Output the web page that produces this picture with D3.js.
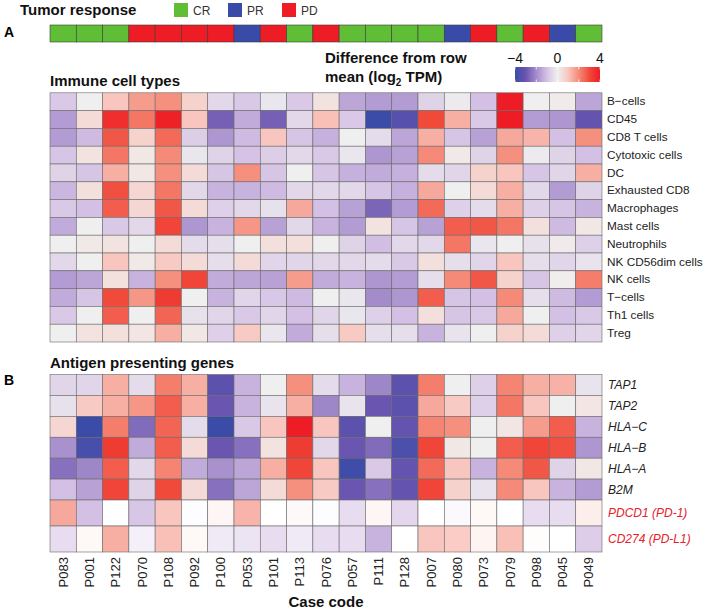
<!DOCTYPE html>
<html><head><meta charset="utf-8">
<script src="https://cdn.jsdelivr.net/npm/d3@7"></script>
<style>
html,body{margin:0;padding:0;background:#fff;}
text{font-family:"Liberation Sans",Arial,Helvetica,sans-serif;}
</style></head>
<body><svg id="chart" width="703" height="609"></svg>
<script>
const cases = ["P083","P001","P122","P070","P108","P092","P100","P053","P101","P113","P076","P057","P111","P128","P007","P080","P073","P079","P098","P045","P049"];
const response = ["CR","CR","CR","PD","PD","PD","PD","PR","PD","CR","PD","CR","CR","CR","CR","PR","PD","CR","PD","PR","CR"];
const responseTypes = ["CR","PR","PD"];
const immuneCells = ["B\u2212cells","CD45","CD8 T cells","Cytotoxic cells","DC","Exhausted CD8","Macrophages","Mast cells","Neutrophils","NK CD56dim cells","NK cells","T\u2212cells","Th1 cells","Treg"];
const immuneValues = [
  [-0.8, 0, 1, 1.7, 1.9, 0.7, -0.5, -0.8, -0.2, -0.8, 0.3, -1.5, -1.7, -1.7, -0.6, -0.1, -1, 4, 0, 0.1, -1.5],
  [-1.7, 0.5, 3.6, 2.3, 3.9, 1, -2.8, -1.4, -2.8, -0.5, 1.1, -0.8, -4, -3.4, 3, 1.4, -0.8, 4, -1.7, -1.8, -3.1],
  [-1.7, -1.1, 2.8, 0.7, 2.5, -0.7, -1.8, -1.1, 1, -0.9, -1.3, 0, -0.4, -1.5, 1.4, -0.9, -1.6, 1.5, 1.3, -1, 1.9],
  [-0.9, 0.3, 2.3, 0.2, 2.0, -0.2, -0.6, -0.95, -0.7, -0.5, -0.8, -0.2, -1.8, -1.6, 2.0, 0.15, -0.6, 1.9, -0.1, -0.6, -1],
  [-0.6, -0.9, 1.4, 0.2, 1.9, 0.5, -0.9, 1.9, -0.9, 0, -0.9, -1.3, -1.4, -1.3, -0.4, -0.55, 0.7, 1, -0.9, -0.55, 1.4],
  [-1.2, 0.4, 2.9, 0.6, 2.3, -0.5, -1.25, -1.25, -1.1, -0.5, -0.5, -0.5, -0.9, -1.3, 1.5, 0, 0.5, 1.4, -0.5, -1.7, -0.6],
  [-0.8, -1, 2.7, 0.6, 2.8, 0.5, -0.65, -0.5, -0.3, 1.5, -1, -1.6, -2.7, -1.7, 2.5, -0.65, -0.4, 1.4, -0.65, -0.9, -1.25],
  [-1.4, 0, -0.8, -0.5, 3.1, -1.8, -1.25, 1.8, -1.6, -0.5, -1.25, -1.7, 0.3, -0.9, -1.6, 2.7, 2.8, 2.3, 0.4, -1.1, 0.2],
  [0, 0.15, 0.3, 0, 0.5, -0.4, -0.35, 0, 0.4, 0.4, 0, -0.6, -1.05, -0.5, -0.5, 2.3, -0.2, 0, -0.3, 0.1, -0.65],
  [-0.5, 0, 1, 0.15, 0.9, 0.5, -0.35, 0.5, -0.55, -0.55, -0.5, -0.5, -0.4, -0.8, 0.4, -0.35, -0.55, 1, -0.35, -0.55, -0.25],
  [-1.7, -1.5, 0.35, -1.25, 1.9, 3.1, -1.4, -1.5, -1.6, 1.7, -1.4, -1.25, -1.8, -1.7, -0.35, 2.0, 2.8, 0.7, -0.9, 0.05, 2.2],
  [-1.4, -0.9, 3.0, 1.8, 3.3, 0, -1.25, -0.55, -0.85, -1.1, 0, -0.2, -2, -1.8, 2.7, -0.9, -1, 2.0, -0.35, -1.1, -1.7],
  [-0.8, 0, 2.7, 0, 2.6, -0.3, -0.55, -0.8, -0.55, -1, -0.55, -0.2, -0.65, -1, 0.4, -0.9, -0.8, 1.5, 0, -1, -0.8],
  [0, 0.3, 0.4, 0.25, 1.4, 0.2, -0.65, 0.9, -0.2, -1.4, -0.35, 0.9, -0.35, -0.35, -1.25, -0.25, 0, 0.7, 0.5, -0.65, -0.55]
];
const antigenGenes = ["TAP1","TAP2","HLA\u2212C","HLA\u2212B","HLA\u2212A","B2M","PDCD1 (PD-1)","CD274 (PD-L1)"];
const checkpointGenes = ["PDCD1 (PD-1)","CD274 (PD-L1)"];
const antigenValues = [
  [-0.55, -0.55, 1.4, -0.4, 2.2, 1.4, -3.3, -1.25, 0, 1.9, -0.4, -1.25, -2.1, -3.3, 2.2, 0, -0.65, 2.1, 1.4, 1.35, -0.25],
  [-0.3, 0.9, 1.4, 1.8, 2.7, 1.4, -3, -1.25, -0.25, 1.4, -2.1, -0.25, -3, -3.3, 1.5, 0.9, -0.65, 2.3, 1, 0, 0.25],
  [0.6, -4, 2.2, -2.6, 2.6, -0.4, -4, -0.8, 1, 4, 1, -3.3, 0, -3.1, 2.1, 1.9, 0, 0.25, 1.7, 2.7, -1.25],
  [-1.9, -3.7, 3.3, -1.4, 2.7, 0.5, -3, -2.5, 0.3, 3.3, -0.5, -3, -2.6, -3.6, 3.1, 0.2, 0, 2.7, 3.1, 2.9, -1.8],
  [-2.5, -2.1, 2.7, -0.5, 2.1, -1.4, -1.9, -1.5, 1.4, 3.1, 1, -3.9, -0.8, -3.1, 2.5, 1, -1.25, 2.0, 2.8, -0.6, 0.2],
  [-1, -1.6, 3.1, -0.6, 3.0, 0.5, -2.5, -1.5, 0.5, 1.9, 0.9, -3, -2.5, -3.1, 3.1, 0.7, -0.25, 2.0, 1, -1.25, -1.7],
  [1.5, -1, 0, -0.9, 1, -0.05, 0.15, 1.3, 0, 0.1, -0.05, -0.55, 0.15, -0.65, 0, -0.1, 0.12, 0, -0.55, -0.55, 0.3],
  [-0.55, 0.12, 1.4, -0.25, 1.1, 0.12, -0.35, -0.45, -0.55, -0.35, -0.55, -0.55, -1.25, 0, 1, 0.9, 0.2, 1.1, 0.05, 0, -0.8]
];
const legendTicks = [-4, 0, 4];

const svg = d3.select("#chart");
const left = 50, right = 602;
const x = d3.scaleBand().domain(cases).range([left, right]).padding(0);

const colorDomain = [-4,-3,-2,-1,0,1,2,3,4];
const colorRange = ["#3a4ca8","#6a55b0","#a48ccb","#d4c0e4","#efefef","#f9c6bf","#f58a78","#f04a3a","#ee1c24"];
const color = d3.scaleLinear().domain(colorDomain).range(colorRange).clamp(true);
const colorWhite = d3.scaleLinear().domain(colorDomain)
  .range(colorRange.map((c,i)=> colorDomain[i]===0 ? "#ffffff" : c)).clamp(true);
const respColor = d3.scaleOrdinal().domain(responseTypes).range(["#5fbe36","#3a4aa8","#ee1c24"]);

// Panel letters
svg.append("text").attr("x",4).attr("y",37).attr("font-size",14).attr("font-weight","bold").text("A");
svg.append("text").attr("x",4).attr("y",385).attr("font-size",14).attr("font-weight","bold").text("B");

// Tumor response
svg.append("text").attr("x",20).attr("y",15).attr("font-size",15).attr("font-weight","bold").attr("fill","#111").text("Tumor response");
const legX = d3.scaleOrdinal().domain(responseTypes).range([174,228,282]);
const lg = svg.append("g");
lg.selectAll("rect").data(responseTypes).join("rect")
  .attr("x",d=>legX(d)).attr("y",3).attr("width",14).attr("height",14)
  .attr("fill",d=>respColor(d));
lg.selectAll("text").data(responseTypes).join("text")
  .attr("x",d=>legX(d)+19).attr("y",15).attr("font-size",12).attr("fill","#333").text(d=>d);

svg.append("g").selectAll("rect").data(cases).join("rect")
  .attr("x",d=>x(d)).attr("y",25).attr("width",x.bandwidth()).attr("height",17)
  .attr("fill",(d,i)=>respColor(response[i]))
  .attr("stroke","#3c3c3c").attr("stroke-width",0.6);

// Color legend
svg.append("text").attr("x",325).attr("y",63).attr("font-size",15).attr("font-weight","bold").attr("fill","#111").text("Difference from row");
const t2 = svg.append("text").attr("x",325).attr("y",82).attr("font-size",15).attr("font-weight","bold").attr("fill","#111");
t2.append("tspan").text("mean (log");
t2.append("tspan").attr("font-size",10).attr("dy",4).text("2");
t2.append("tspan").attr("dy",-4).text(" TPM)");

const lx = d3.scaleLinear().domain([-4,4]).range([515,600]);
const defs = svg.append("defs");
const grad = defs.append("linearGradient").attr("id","cbar").attr("x1","0%").attr("x2","100%");
d3.range(-4,4.01,0.5).forEach(v=>{
  grad.append("stop").attr("offset",((v+4)/8*100)+"%").attr("stop-color",color(v));
});
svg.append("rect").attr("x",lx(-4)).attr("y",67).attr("width",lx(4)-lx(-4)).attr("height",15).attr("fill","url(#cbar)");
const ctick = svg.append("g");
[-4,-2,0,2,4].forEach(v=>{
  ctick.append("line").attr("x1",lx(v)).attr("x2",lx(v)).attr("y1",67).attr("y2",69.5).attr("stroke","#fff").attr("stroke-width",0.8);
  ctick.append("line").attr("x1",lx(v)).attr("x2",lx(v)).attr("y1",79.5).attr("y2",82).attr("stroke","#fff").attr("stroke-width",0.8);
});
svg.append("g").selectAll("text").data(legendTicks).join("text")
  .attr("x",d=>lx(d)).attr("y",63).attr("text-anchor","middle").attr("font-size",14).attr("fill","#111")
  .text(d=>d<0 ? "\u2212"+Math.abs(d) : d);

// Immune heatmap
svg.append("text").attr("x",50).attr("y",86).attr("font-size",15).attr("font-weight","bold").attr("fill","#111").text("Immune cell types");
const yI = d3.scaleBand().domain(immuneCells).range([92.8,342]).padding(0);
const gI = svg.append("g");
immuneCells.forEach((rname,ri)=>{
  gI.append("g").selectAll("rect").data(immuneValues[ri]).join("rect")
    .attr("x",(v,ci)=>x(cases[ci])).attr("y",yI(rname))
    .attr("width",x.bandwidth()).attr("height",yI.bandwidth())
    .attr("fill",v=>color(v)).attr("stroke","#6a6a6a").attr("stroke-width",0.6);
});
svg.append("g").attr("transform",`translate(${right},0)`)
  .call(d3.axisRight(yI).tickSize(0).tickPadding(5))
  .call(g=>g.select(".domain").remove())
  .selectAll("text").attr("font-size",11.8).attr("fill","#222")
  .style("font-family","'Liberation Sans',Arial,sans-serif");

// Antigen heatmap
svg.append("text").attr("x",50).attr("y",368).attr("font-size",15).attr("font-weight","bold").attr("fill","#111").text("Antigen presenting genes");
const yA = d3.scaleLinear().domain([0,6,8]).range([374.5,500,552]);
const gA = svg.append("g");
antigenGenes.forEach((gname,ri)=>{
  const sc = checkpointGenes.includes(gname) ? colorWhite : color;
  gA.append("g").selectAll("rect").data(antigenValues[ri]).join("rect")
    .attr("x",(v,ci)=>x(cases[ci])).attr("y",yA(ri))
    .attr("width",x.bandwidth()).attr("height",yA(ri+1)-yA(ri))
    .attr("fill",v=>sc(v)).attr("stroke","#6a6a6a").attr("stroke-width",0.6);
});
svg.append("g").selectAll("text").data(antigenGenes).join("text")
  .attr("x",right+6).attr("y",(d,i)=>(yA(i)+yA(i+1))/2).attr("dy","0.35em")
  .attr("font-size",12).attr("font-style","italic")
  .attr("fill",d=>checkpointGenes.includes(d) ? "#e8202a" : "#222").text(d=>d);

// X axis
svg.append("g").attr("transform","translate(0,552)")
  .call(d3.axisBottom(x).tickSize(0).tickPadding(5))
  .call(g=>g.select(".domain").remove())
  .selectAll("text")
  .attr("font-size",13).attr("fill","#222")
  .style("font-family","'Liberation Sans',Arial,sans-serif")
  .attr("transform","rotate(-90)").attr("text-anchor","end")
  .attr("x",-5).attr("y",0).attr("dy","0.35em");

svg.append("text").attr("x",326).attr("y",607).attr("text-anchor","middle").attr("font-size",15).attr("font-weight","bold").attr("fill","#111").text("Case code");
</script></body></html>
